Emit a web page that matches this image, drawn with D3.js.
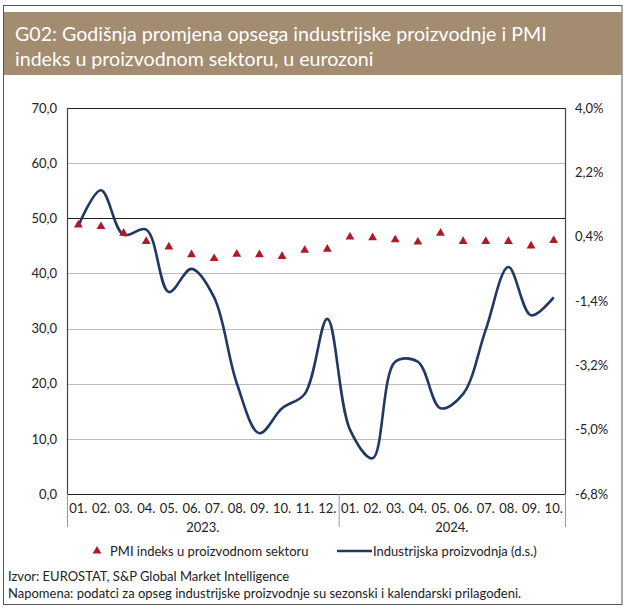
<!DOCTYPE html>
<html>
<head>
<meta charset="utf-8">
<script src="https://cdn.jsdelivr.net/npm/d3@7"></script>
<style>
  body { margin: 0; background: #fff; }
  svg { font-family: Lato, "Open Sans", sans-serif; }
</style>
</head>
<body>
<svg width="624" height="607"></svg>
<script>
const months = ['01.', '02.', '03.', '04.', '05.', '06.', '07.', '08.', '09.', '10.', '11.', '12.',
                '01.', '02.', '03.', '04.', '05.', '06.', '07.', '08.', '09.', '10.'];
const years = [{ label: '2023.', count: 12 }, { label: '2024.', count: 10 }];

// PMI indeks u proizvodnom sektoru (lijeva os)
const pmi = [48.8, 48.5, 47.3, 45.8, 44.8, 43.4, 42.7, 43.5, 43.4, 43.1, 44.2, 44.4,
             46.6, 46.5, 46.1, 45.7, 47.3, 45.8, 45.8, 45.8, 45.0, 46.0];

// Industrijska proizvodnja, god. promjena u % (desna os)
const ip = [0.7, 1.7, 0.45, 0.6, -1.15, -0.5, -1.3, -3.7, -5.1, -4.4, -4.0, -1.9,
            -5.0, -5.8, -3.1, -3.1, -4.4, -4.0, -2.2, -0.45, -1.8, -1.3];

const leftTicks = [0, 10, 20, 30, 40, 50, 60, 70];
const rightTicks = [4.0, 2.2, 0.4, -1.4, -3.2, -5.0, -6.8];

const plot = { left: 67, right: 565, top: 108, bottom: 494 };
const FS = 13;

const svg = d3.select('svg');

// okvir i naslov
svg.append('rect').attr('x', 3.5).attr('y', 5.5).attr('width', 618.5).attr('height', 599)
  .attr('fill', '#fff').attr('stroke', '#555').attr('stroke-width', 1);
svg.append('rect').attr('x', 4).attr('y', 12).attr('width', 618).attr('height', 63)
  .attr('fill', '#A38C70');
svg.append('text').attr('x', 15).attr('y', 41).attr('fill', '#fff').attr('font-size', 19.6)
  .text('G02: Godišnja promjena opsega industrijske proizvodnje i PMI');
svg.append('text').attr('x', 15).attr('y', 66).attr('fill', '#fff').attr('font-size', 19.6)
  .text('indeks u proizvodnom sektoru, u eurozoni');

const x = d3.scaleBand().domain(d3.range(months.length)).range([plot.left, plot.right]);
const yL = d3.scaleLinear().domain([0, 70]).range([plot.bottom, plot.top]);
const yR = d3.scaleLinear().domain([-6.8, 4.0]).range([plot.bottom, plot.top]);
const cx = i => x(i) + x.bandwidth() / 2;

const comma = v => v.toFixed(1).replace('.', ',');

// mreža
svg.append('g').selectAll('line').data(leftTicks).enter().append('line')
  .attr('x1', plot.left).attr('x2', plot.right)
  .attr('y1', d => Math.round(yL(d)) + 0.5).attr('y2', d => Math.round(yL(d)) + 0.5)
  .attr('stroke', d => (d === 50 || d === 0 || d === 70) ? '#222' : '#bdbdbd')
  .attr('stroke-width', 1.2);

svg.append('line').attr('x1', plot.left + 0.5).attr('x2', plot.left + 0.5)
  .attr('y1', plot.top).attr('y2', plot.bottom).attr('stroke', '#444').attr('stroke-width', 1.2);
svg.append('line').attr('x1', plot.right + 0.5).attr('x2', plot.right + 0.5)
  .attr('y1', plot.top).attr('y2', plot.bottom).attr('stroke', '#444').attr('stroke-width', 1.2);

// osi
const axisL = d3.axisLeft(yL).tickValues(leftTicks).tickFormat(comma).tickSize(0).tickPadding(10);
svg.append('g').attr('transform', `translate(${plot.left},0)`).call(axisL)
  .call(g => g.select('.domain').remove())
  .selectAll('text').attr('font-size', FS).attr('fill', '#222').attr('font-family', 'Lato, sans-serif');

const axisR = d3.axisRight(yR).tickValues(rightTicks).tickFormat(d => comma(d) + '%').tickSize(0).tickPadding(10);
svg.append('g').attr('transform', `translate(${plot.right},0)`).call(axisR)
  .call(g => g.select('.domain').remove())
  .selectAll('text').attr('font-size', FS).attr('fill', '#222').attr('font-family', 'Lato, sans-serif');

// kategorije
const axisX = d3.axisBottom(x).tickFormat(i => months[i]).tickSize(0).tickPadding(10);
svg.append('g').attr('transform', `translate(0,${plot.bottom})`).call(axisX)
  .call(g => g.select('.domain').remove())
  .selectAll('text').attr('font-size', FS).attr('fill', '#222').attr('font-family', 'Lato, sans-serif');

let start = 0;
const sepIdx = [0];
years.forEach(yr => {
  const x0 = x(start), x1 = x(start + yr.count - 1) + x.bandwidth();
  svg.append('text').attr('x', (x0 + x1) / 2).attr('y', plot.bottom + 38)
    .attr('text-anchor', 'middle').attr('font-size', FS).attr('fill', '#222').text(yr.label);
  start += yr.count;
  sepIdx.push(start);
});
svg.append('g').selectAll('line').data(sepIdx).enter().append('line')
  .attr('x1', i => (i < months.length ? x(i) : plot.right) + 0.5)
  .attr('x2', i => (i < months.length ? x(i) : plot.right) + 0.5)
  .attr('y1', plot.bottom).attr('y2', plot.bottom + 33)
  .attr('stroke', '#999').attr('stroke-width', 1);

// industrijska proizvodnja
const line = d3.line().x((d, i) => cx(i)).y(d => yR(d)).curve(d3.curveCatmullRom.alpha(0.5));
svg.append('path').datum(ip).attr('d', line)
  .attr('fill', 'none').attr('stroke', '#1F3864').attr('stroke-width', 2.6);

// PMI
const tri = d3.symbol().type(d3.symbolTriangle).size(34);
svg.append('g').selectAll('path').data(pmi).enter().append('path')
  .attr('d', tri)
  .attr('transform', (d, i) => `translate(${cx(i)},${yL(d)})`)
  .attr('fill', '#B2182B');

// legenda
svg.append('path').attr('d', tri).attr('transform', 'translate(97,551)').attr('fill', '#B2182B');
svg.append('text').attr('x', 110).attr('y', 556).attr('font-size', FS).attr('fill', '#222')
  .text('PMI indeks u proizvodnom sektoru');
svg.append('line').attr('x1', 337).attr('x2', 372).attr('y1', 551).attr('y2', 551)
  .attr('stroke', '#1F3864').attr('stroke-width', 2.6);
svg.append('text').attr('x', 373).attr('y', 556).attr('font-size', FS).attr('fill', '#222')
  .text('Industrijska proizvodnja (d.s.)');

// izvor i napomena
svg.append('text').attr('x', 8).attr('y', 581).attr('font-size', FS).attr('fill', '#222')
  .text('Izvor: EUROSTAT, S&P Global Market Intelligence');
svg.append('text').attr('x', 8).attr('y', 598).attr('font-size', FS).attr('fill', '#222')
  .text('Napomena: podatci za opseg industrijske proizvodnje su sezonski i kalendarski prilagođeni.');
</script>
</body>
</html>
